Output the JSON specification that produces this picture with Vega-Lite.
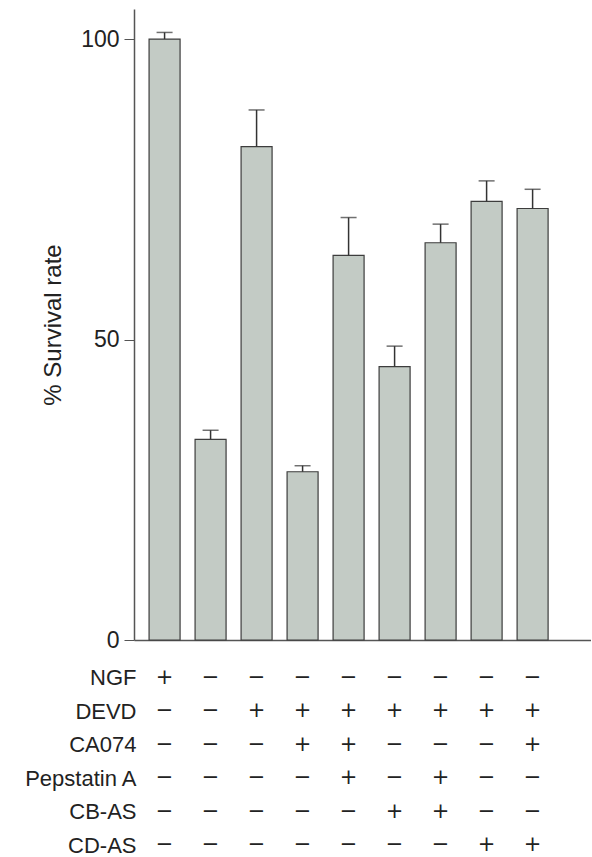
{
  "$schema": "https://vega.github.io/schema/vega-lite/v6.json",
  "background": "white",
  "padding": {"left": 23, "top": 9, "right": 0, "bottom": 0},
  "config": {
    "view": {"stroke": null},
    "font": "Liberation Sans",
    "concat": {"spacing": 9}
  },
  "datasets": {
    "bars": [
      {"group": "1", "rate": 100.0, "upper": 101.1},
      {"group": "2", "rate": 33.4, "upper": 34.9},
      {"group": "3", "rate": 82.1, "upper": 88.2},
      {"group": "4", "rate": 28.0, "upper": 29.0},
      {"group": "5", "rate": 64.0, "upper": 70.3},
      {"group": "6", "rate": 45.5, "upper": 48.9},
      {"group": "7", "rate": 66.1, "upper": 69.2},
      {"group": "8", "rate": 73.0, "upper": 76.4},
      {"group": "9", "rate": 71.8, "upper": 75.0}
    ],
    "table": [
      {"group": "1", "factor": "NGF", "sign": "+"},
      {"group": "2", "factor": "NGF", "sign": "−"},
      {"group": "3", "factor": "NGF", "sign": "−"},
      {"group": "4", "factor": "NGF", "sign": "−"},
      {"group": "5", "factor": "NGF", "sign": "−"},
      {"group": "6", "factor": "NGF", "sign": "−"},
      {"group": "7", "factor": "NGF", "sign": "−"},
      {"group": "8", "factor": "NGF", "sign": "−"},
      {"group": "9", "factor": "NGF", "sign": "−"},
      {"group": "1", "factor": "DEVD", "sign": "−"},
      {"group": "2", "factor": "DEVD", "sign": "−"},
      {"group": "3", "factor": "DEVD", "sign": "+"},
      {"group": "4", "factor": "DEVD", "sign": "+"},
      {"group": "5", "factor": "DEVD", "sign": "+"},
      {"group": "6", "factor": "DEVD", "sign": "+"},
      {"group": "7", "factor": "DEVD", "sign": "+"},
      {"group": "8", "factor": "DEVD", "sign": "+"},
      {"group": "9", "factor": "DEVD", "sign": "+"},
      {"group": "1", "factor": "CA074", "sign": "−"},
      {"group": "2", "factor": "CA074", "sign": "−"},
      {"group": "3", "factor": "CA074", "sign": "−"},
      {"group": "4", "factor": "CA074", "sign": "+"},
      {"group": "5", "factor": "CA074", "sign": "+"},
      {"group": "6", "factor": "CA074", "sign": "−"},
      {"group": "7", "factor": "CA074", "sign": "−"},
      {"group": "8", "factor": "CA074", "sign": "−"},
      {"group": "9", "factor": "CA074", "sign": "+"},
      {"group": "1", "factor": "Pepstatin A", "sign": "−"},
      {"group": "2", "factor": "Pepstatin A", "sign": "−"},
      {"group": "3", "factor": "Pepstatin A", "sign": "−"},
      {"group": "4", "factor": "Pepstatin A", "sign": "−"},
      {"group": "5", "factor": "Pepstatin A", "sign": "+"},
      {"group": "6", "factor": "Pepstatin A", "sign": "−"},
      {"group": "7", "factor": "Pepstatin A", "sign": "+"},
      {"group": "8", "factor": "Pepstatin A", "sign": "−"},
      {"group": "9", "factor": "Pepstatin A", "sign": "−"},
      {"group": "1", "factor": "CB-AS", "sign": "−"},
      {"group": "2", "factor": "CB-AS", "sign": "−"},
      {"group": "3", "factor": "CB-AS", "sign": "−"},
      {"group": "4", "factor": "CB-AS", "sign": "−"},
      {"group": "5", "factor": "CB-AS", "sign": "−"},
      {"group": "6", "factor": "CB-AS", "sign": "+"},
      {"group": "7", "factor": "CB-AS", "sign": "+"},
      {"group": "8", "factor": "CB-AS", "sign": "−"},
      {"group": "9", "factor": "CB-AS", "sign": "−"},
      {"group": "1", "factor": "CD-AS", "sign": "−"},
      {"group": "2", "factor": "CD-AS", "sign": "−"},
      {"group": "3", "factor": "CD-AS", "sign": "−"},
      {"group": "4", "factor": "CD-AS", "sign": "−"},
      {"group": "5", "factor": "CD-AS", "sign": "−"},
      {"group": "6", "factor": "CD-AS", "sign": "−"},
      {"group": "7", "factor": "CD-AS", "sign": "−"},
      {"group": "8", "factor": "CD-AS", "sign": "+"},
      {"group": "9", "factor": "CD-AS", "sign": "+"}
    ]
  },
  "vconcat": [
    {
      "width": 457,
      "height": 631,
      "data": {"name": "bars"},
      "encoding": {
        "x": {
          "field": "group",
          "type": "ordinal",
          "scale": {"type": "band", "paddingInner": 0.326, "paddingOuter": 0.63, "align": 0.26},
          "axis": {"labels": false, "ticks": false, "title": null, "domainColor": "#555555", "domainWidth": 1.5}
        }
      },
      "layer": [
        {
          "mark": {"type": "bar", "fill": "#c3cbc5", "stroke": "#3d3d3d", "strokeWidth": 1.2},
          "encoding": {
            "y": {
              "field": "rate",
              "type": "quantitative",
              "scale": {"domain": [0, 105], "nice": false},
              "axis": {
                "values": [0, 50, 100],
                "title": "% Survival rate",
                "titleFontSize": 24,
                "titleFontWeight": "normal",
                "titleColor": "#222222",
                "titlePadding": 15,
                "grid": false,
                "tickSize": 10,
                "tickColor": "#555555",
                "domainColor": "#555555",
                "domainWidth": 1.5,
                "labelFontSize": 23,
                "labelColor": "#222222",
                "labelPadding": 5
              }
            }
          }
        },
        {
          "mark": {"type": "rule", "color": "#333333", "strokeWidth": 1.5},
          "encoding": {
            "y": {"field": "rate", "type": "quantitative"},
            "y2": {"field": "upper"}
          }
        },
        {
          "mark": {"type": "tick", "color": "#333333", "size": 16, "thickness": 1.5},
          "encoding": {
            "y": {"field": "upper", "type": "quantitative"}
          }
        }
      ]
    },
    {
      "width": 457,
      "height": 201,
      "data": {"name": "table"},
      "mark": {"type": "text", "font": "DejaVu Sans", "fontSize": 21, "color": "#222222"},
      "encoding": {
        "x": {
          "field": "group",
          "type": "ordinal",
          "scale": {"type": "band", "paddingInner": 0.326, "paddingOuter": 0.63, "align": 0.26},
          "axis": null
        },
        "y": {
          "field": "factor",
          "type": "nominal",
          "sort": ["NGF", "DEVD", "CA074", "Pepstatin A", "CB-AS", "CD-AS"],
          "axis": {
            "title": null,
            "domain": false,
            "ticks": false,
            "labelFontSize": 22,
            "labelColor": "#222222",
            "labelPadding": -2
          }
        },
        "text": {"field": "sign"}
      }
    }
  ]
}
